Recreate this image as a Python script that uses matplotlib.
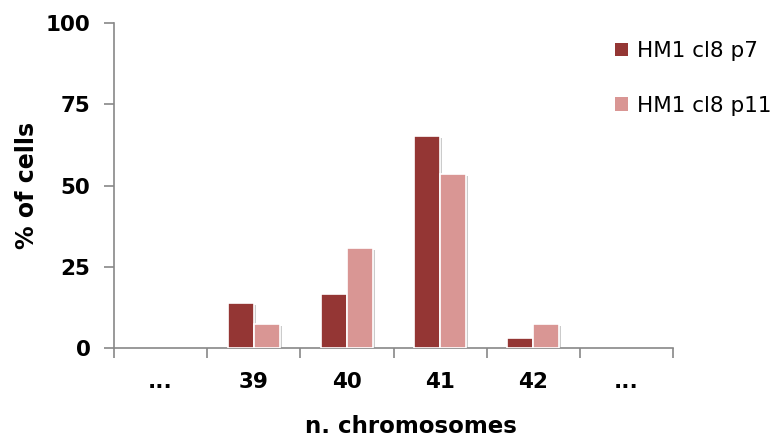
import numpy as np
import matplotlib
matplotlib.use("Agg")
from matplotlib import pyplot as plt
from matplotlib import patheffects as pe

# data
categories = ["...", "39", "40", "41", "42", "..."]
p7 = [0, 13.8, 16.6, 65.2, 3.1, 0]
p11 = [0, 7.4, 30.7, 53.7, 7.4, 0]
series_names = ["HM1 cl8 p7", "HM1 cl8 p11"]
colors = ["#943634", "#d99694"]

fig = plt.figure(figsize=(7.83, 4.37), dpi=100)
ax = fig.add_axes([0.1456, 0.2037, 0.714, 0.7433])

x = np.arange(len(categories))
w = 0.28
shadow = [pe.SimplePatchShadow(offset=(1.5, -1.5), shadow_rgbFace="#999999", alpha=0.5), pe.Normal()]
for i, (vals, name) in enumerate(zip([p7, p11], series_names)):
    pos = x + (i - 0.5) * w
    keep = [j for j, v in enumerate(vals) if v > 0]
    bars = ax.bar(pos[keep], np.array(vals)[keep], width=w, color=colors[i],
                  edgecolor="white", linewidth=1.2, label=name, zorder=3)
    for b in bars:
        b.set_path_effects(shadow)

ax.set_xlim(-0.5, len(categories) - 0.5)
ax.set_ylim(0, 100)
ax.set_yticks([0, 25, 50, 75, 100])
ax.set_xticks(x)
ax.set_xticklabels(categories)
ax.set_xticks(np.arange(len(categories) + 1) - 0.5, minor=True)
ax.tick_params(axis="x", which="major", length=0, pad=17)
ax.tick_params(axis="x", which="minor", length=7, direction="out", color="#888888", width=1.2)
ax.tick_params(axis="y", length=7, direction="out", color="#888888", width=1.2, pad=10)
for lab in ax.get_xticklabels() + ax.get_yticklabels():
    lab.set_fontweight("bold")
    lab.set_fontsize(15.5)

for s in ["top", "right"]:
    ax.spines[s].set_visible(False)
for s in ["left", "bottom"]:
    ax.spines[s].set_color("#888888")
    ax.spines[s].set_linewidth(1.2)

ax.set_xlabel("n. chromosomes", fontsize=16.5, fontweight="bold")
ax.xaxis.set_label_coords(0.532, -0.205)
ax.set_ylabel("% of cells", fontsize=17, fontweight="bold")
ax.yaxis.set_label_coords(-0.134, 0.5)

leg = fig.legend(loc="upper left", bbox_to_anchor=(0.7605, 0.95), frameon=False,
                 fontsize=15.5, handlelength=0.6, handleheight=0.6,
                 handletextpad=0.45, labelspacing=1.6)
for h in leg.legend_handles:
    h.set_path_effects([])
    h.set_edgecolor("none")

fig.savefig("out.png", dpi=100)
